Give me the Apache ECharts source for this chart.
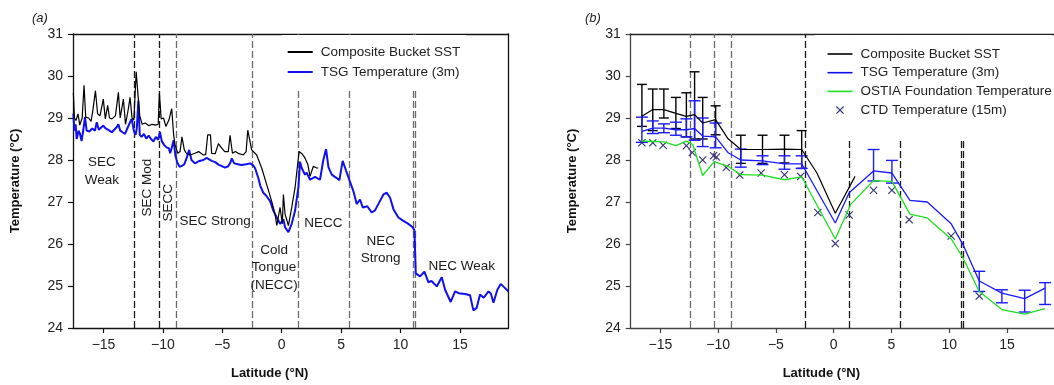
<!DOCTYPE html>
<html>
<head>
<meta charset="utf-8">
<script src="https://cdn.jsdelivr.net/npm/echarts@6/dist/echarts.min.js"></script>
<style>
  html, body { margin: 0; padding: 0; background: #fff; }
  #chart { width: 1054px; height: 385px; }
</style>
</head>
<body>
<div id="chart"></div>
<script>
// ---------- data ----------
const latTicks = [-15, -10, -5, 0, 5, 10, 15];
// regime boundaries (dashed lines), degrees N
const regimeBounds = [-12.4, -10.3, -8.84, -2.5, 1.35, 5.72, 11.05, 11.22];

// panel (a): along-track series [lat, temp]
const bucketTrackA = [
  [-17.54,29.6],[-17.45,29.0],[-17.32,28.94],[-17.15,29.1],[-17.0,28.83],[-16.8,29.0],[-16.64,29.78],
  [-16.5,29.02],[-16.25,29.0],[-16.05,28.92],[-15.9,29.18],[-15.68,29.65],[-15.5,29.1],[-15.3,29.05],
  [-15.02,29.45],[-14.85,28.98],[-14.65,29.3],[-14.5,29.0],[-14.3,28.98],[-14.0,29.05],[-13.75,29.61],
  [-13.6,29.0],[-13.33,29.45],[-13.15,28.85],[-12.91,29.22],[-12.77,29.49],[-12.6,29.0],[-12.45,28.95],
  [-12.25,30.1],[-12.1,29.55],[-11.95,29.05],[-11.75,28.85],[-11.5,28.88],[-11.2,28.82],[-10.9,28.85],
  [-10.6,28.83],[-10.4,28.85],[-10.3,29.6],[-10.15,28.98],[-9.95,29.0],[-9.75,28.8],[-9.5,28.95],
  [-9.26,29.22],[-9.1,28.6],[-8.98,28.36],[-8.75,28.16],[-8.56,28.2],[-8.4,28.55],[-8.2,28.24],
  [-8.0,28.15],[-7.7,28.12],[-7.3,28.16],[-7.0,28.2],[-6.6,28.12],[-6.4,28.13],[-6.23,28.6],[-6.0,28.6],
  [-5.9,28.16],[-5.6,28.15],[-5.33,28.39],[-5.1,28.3],[-4.8,28.2],[-4.5,28.2],[-4.35,28.59],[-4.15,28.16],
  [-3.9,28.2],[-3.6,28.15],[-3.23,28.12],[-3.0,28.2],[-2.86,28.71],[-2.53,28.24],[-2.11,28.12],
  [-1.69,27.81],[-1.27,27.42],[-0.85,27.02],[-0.56,26.71],[-0.42,26.44],[-0.14,26.87],[0.05,26.48],
  [0.14,27.18],[0.28,26.71],[0.56,26.44],[0.84,26.87],[1.12,27.34],[1.46,28.2],[1.7,28.15],[1.95,28.05],
  [2.19,27.9],[2.38,27.61],[2.66,27.85],[2.94,27.81],[3.08,27.81]
];
const tsgTrackA = [
  [-17.54,29.1],[-17.45,28.7],[-17.35,28.85],[-17.26,28.5],[-17.1,28.7],[-16.98,28.62],[-16.85,28.45],
  [-16.7,28.72],[-16.56,29.02],[-16.42,28.7],[-16.2,28.68],[-15.95,28.75],[-15.72,28.7],[-15.57,28.9],
  [-15.4,28.72],[-15.25,28.7],[-15.02,28.82],[-14.85,28.76],[-14.73,28.8],[-14.5,28.7],[-14.3,28.66],
  [-14.1,28.72],[-13.9,28.78],[-13.75,28.85],[-13.6,28.7],[-13.4,28.66],[-13.19,28.62],[-13.0,28.75],
  [-12.8,28.88],[-12.63,28.98],[-12.45,28.7],[-12.3,28.6],[-12.2,28.75],[-12.07,29.41],[-11.95,28.6],
  [-11.8,28.55],[-11.6,28.62],[-11.4,28.51],[-11.2,28.58],[-11.0,28.5],[-10.8,28.44],[-10.6,28.55],
  [-10.4,28.48],[-10.25,28.67],[-10.1,28.45],[-9.9,28.36],[-9.7,28.3],[-9.5,28.28],[-9.39,28.16],
  [-9.25,28.3],[-9.1,28.47],[-8.95,28.1],[-8.8,27.95],[-8.6,27.84],[-8.4,27.86],[-8.2,27.9],[-8.0,28.05],
  [-7.79,28.24],[-7.6,28.0],[-7.3,27.92],[-7.0,27.97],[-6.6,28.0],[-6.32,28.05],[-6.16,28.08],[-5.9,27.98],
  [-5.6,27.95],[-5.33,27.89],[-5.0,27.85],[-4.77,27.82],[-4.5,27.85],[-4.3,27.95],[-4.21,28.04],[-4.0,27.92],
  [-3.7,27.9],[-3.4,27.88],[-3.0,27.9],[-2.67,27.92],[-2.4,27.87],[-2.25,27.81],[-1.97,27.57],[-1.8,27.38],
  [-1.55,27.22],[-1.3,27.15],[-0.98,27.02],[-0.7,26.79],[-0.42,26.63],[-0.14,26.48],[0.14,26.59],
  [0.28,26.4],[0.56,26.28],[0.84,26.48],[1.12,26.79],[1.4,27.34],[1.54,27.96],[1.68,27.81],[1.96,27.65],
  [2.1,27.7],[2.38,27.53],[2.8,27.6],[3.22,27.53],[3.5,28.0],[3.73,28.26],[3.93,27.83],[4.21,27.65],
  [4.63,27.57],[4.85,27.52],[5.13,27.98],[5.41,27.75],[5.75,27.48],[6.03,27.26],[6.31,26.95],[6.59,27.06],
  [6.82,26.87],[7.2,26.9],[7.57,26.75],[7.85,26.8],[8.13,26.95],[8.56,27.18],[8.84,27.22],[9.12,27.1],
  [9.4,26.83],[9.82,26.63],[10.24,26.55],[10.66,26.48],[11.02,26.4],[11.17,26.32],[11.28,25.3],
  [11.64,25.23],[12.01,25.34],[12.34,25.09],[12.6,25.12],[12.76,25.15],[13.05,24.99],[13.19,25.02],
  [13.47,25.21],[13.75,24.91],[14.22,24.62],[14.59,24.87],[14.9,24.83],[15.43,24.81],[15.85,24.78],
  [16.13,24.42],[16.41,24.48],[16.69,24.8],[17.0,24.72],[17.4,24.87],[17.6,24.82],[17.82,24.6],
  [18.15,24.91],[18.43,25.05],[18.8,24.95],[19.08,24.87]
];

// panel (b): binned means
const bucketLatB  = [-16.6,-15.66,-14.7,-13.66,-12.75,-12.04,-11.34,-10.22,-9.16,-8.04,-6.16,-4.26,-2.77,-1.45,0.14,1.85];
const bucketMeanB = [29.04,29.2,29.2,29.11,29.04,29.08,28.88,28.96,28.51,28.25,28.25,28.26,28.25,27.69,26.73,27.61];
const bucketBarLat = [-16.6,-15.66,-14.7,-13.66,-12.75,-12.04,-11.34,-10.22,-8.04,-6.16,-4.26,-2.77];
const bucketBarLo  = [28.8,28.7,29.0,28.75,28.55,28.5,28.5,28.6,27.92,27.92,27.93,27.8];
const bucketBarHi  = [29.8,29.69,29.69,29.49,29.6,30.1,29.49,29.29,28.59,28.59,28.59,28.7];

const tsgLatB  = [-16.6,-15.66,-14.7,-13.66,-12.75,-12.04,-11.34,-10.22,-9.16,-8.04,-6.16,-4.26,-2.77,0.14,1.34,3.45,5.04,6.6,8.1,10.17,11.15,12.6,14.56,16.53,18.3];
const tsgMeanB = [28.68,28.76,28.76,28.72,28.72,28.75,28.57,28.55,28.18,28.0,27.98,27.91,27.91,26.5,27.22,27.74,27.69,27.04,27.0,26.48,26.01,25.12,24.83,24.7,24.95];
const tsgBarLat = [-16.6,-15.66,-14.7,-13.66,-12.75,-12.04,-11.34,-10.22,-8.04,-6.16,-4.26,-2.77,3.45,5.04,12.6,14.56,16.53,18.3];
const tsgBarLo  = [28.42,28.63,28.65,28.59,28.55,28.47,28.32,28.29,27.83,27.89,27.78,27.8,27.5,27.45,24.87,24.6,24.38,24.56];
const tsgBarHi  = [29.02,28.93,28.86,28.9,28.98,29.41,29.0,28.88,28.26,28.1,28.1,28.1,28.25,27.99,25.35,24.91,24.9,25.08];

const ostiaLatB  = [-16.6,-15.66,-14.7,-13.66,-12.75,-12.2,-11.34,-10.34,-9.16,-8.04,-6.16,-4.26,-2.77,0.14,1.49,3.45,5.04,6.6,8.1,10.17,11.15,12.6,14.56,16.53,18.3];
const ostiaTempB = [28.45,28.44,28.43,28.34,28.45,28.37,27.63,27.96,27.85,27.65,27.64,27.53,27.6,26.12,26.95,27.51,27.49,26.71,26.62,26.12,25.69,24.87,24.44,24.33,24.46];

const ctdLatB  = [-16.6,-15.66,-14.76,-12.75,-12.24,-11.34,-10.4,-10.15,-9.3,-8.13,-6.28,-4.26,-2.86,-1.37,0.14,1.34,3.45,5.04,6.53,10.17,12.6];
const ctdTempB = [28.41,28.41,28.35,28.34,28.18,28.0,28.1,28.07,27.82,27.64,27.69,27.65,27.61,26.75,26.01,26.69,27.28,27.28,26.58,26.19,24.76];

// region names in panel (a): [text, lat, temp, rotate]
const regimeLabels = [
  ['SEC\nWeak', -15.13, 27.73, 0],
  ['SEC Mod', -11.34, 27.34, 90],
  ['SECC', -9.57, 26.98, 90],
  ['SEC Strong', -5.61, 26.53, 0],
  ['Cold\nTongue\n(NECC)', -0.65, 25.44, 0],
  ['NECC', 3.5, 26.5, 0],
  ['NEC\nStrong', 8.33, 25.86, 0],
  ['NEC Weak', 15.15, 25.46, 0]
];

// ---------- chart ----------
const chart = echarts.init(document.getElementById('chart'));
const FONT = 'Liberation Sans, Arial, sans-serif';
const LAT_MIN = -17.57, LAT_MAX = 19.07;
const zip = (a, b) => a.map((v, i) => [v, b[i]]);
const zip3 = (a, b, c) => a.map((v, i) => [v, b[i], c[i]]);
const CROSS = 'path://M0,1L1,0L5,4L9,0L10,1L6,5L10,9L9,10L5,6L1,10L0,9L4,5Z';

function latAxis(gi, color) {
  return {
    type: 'value', gridIndex: gi, min: LAT_MIN, max: LAT_MAX,
    name: 'Latitude (°N)', nameLocation: 'middle', nameGap: 39,
    nameTextStyle: { fontFamily: FONT, fontWeight: 'bold', fontSize: 13, color: '#111', padding: [0, 42, 0, 0] },
    axisLine: { show: true, onZero: false, lineStyle: { color: color, width: 1.3 } },
    axisTick: { show: true, length: 5, customValues: latTicks, lineStyle: { color: color, width: 1.2 } },
    axisLabel: { customValues: latTicks, fontFamily: FONT, fontSize: 14, color: '#222', margin: 10,
      formatter: v => String(v).replace('-', '\u2212') },
    splitLine: { show: false }
  };
}
function frameX(gi, color) {
  return { type: 'value', gridIndex: gi, position: 'top', min: LAT_MIN, max: LAT_MAX,
    axisLine: { show: true, onZero: false, lineStyle: { color: color, width: 1.3 } },
    axisTick: { show: false }, axisLabel: { show: false }, splitLine: { show: false } };
}
function tempAxis(gi, color, gap) {
  return {
    type: 'value', gridIndex: gi, min: 24, max: 31, interval: 1,
    name: 'Temperature (°C)', nameLocation: 'middle', nameGap: gap,
    nameTextStyle: { fontFamily: FONT, fontWeight: 'bold', fontSize: 13, color: '#111' },
    axisLine: { show: true, onZero: false, lineStyle: { color: color, width: 1.3 } },
    axisTick: { show: true, length: 5, lineStyle: { color: color, width: 1.2 } },
    axisLabel: { fontFamily: FONT, fontSize: 14, color: '#222', margin: 10 },
    splitLine: { show: false }
  };
}
function bounds(darkFn) {
  return {
    silent: true, z: 1, symbol: ['none', 'none'], label: { show: false },
    lineStyle: { type: [7, 3], width: 1.3 },
    data: regimeBounds.map((v, i) => ({ xAxis: v, lineStyle: { color: darkFn(i) ? '#1a1a1a' : '#6a6a6a' } }))
  };
}
function errorBars(capHalf, color) {
  return function (params, api) {
    const x = api.value(0);
    const lo = api.coord([x, api.value(1)]);
    const hi = api.coord([x, api.value(2)]);
    const style = { stroke: color, lineWidth: 1.4, fill: null };
    return { type: 'group', children: [
      { type: 'line', shape: { x1: lo[0], y1: lo[1], x2: hi[0], y2: hi[1] }, style: style },
      { type: 'line', shape: { x1: hi[0] - capHalf, y1: hi[1], x2: hi[0] + capHalf, y2: hi[1] }, style: style },
      { type: 'line', shape: { x1: lo[0] - capHalf, y1: lo[1], x2: lo[0] + capHalf, y2: lo[1] }, style: style }
    ] };
  };
}
// legend entry for a line series: just the line, no symbol
const lineEntry = name => ({ name: name, itemStyle: { opacity: 0 } });

const option = {
  animation: false,
  backgroundColor: '#fff',
  textStyle: { fontFamily: FONT },
  title: [
    { text: '(a)', left: 27, top: 7, textStyle: { fontFamily: FONT, fontSize: 13, fontStyle: 'italic', fontWeight: 'normal', color: '#222' } },
    { text: '(b)', left: 580, top: 7, textStyle: { fontFamily: FONT, fontSize: 13, fontStyle: 'italic', fontWeight: 'normal', color: '#222' } }
  ],
  grid: [
    { left: 73, top: 34, width: 435.3, height: 298.3 },
    { left: 630.7, top: 34, width: 435.3, height: 298.3 }
  ],
  xAxis: [latAxis(0, '#111'), frameX(0, '#111'), latAxis(1, '#444'), frameX(1, '#222')],
  yAxis: [
    tempAxis(0, '#111', 51),
    { type: 'value', gridIndex: 0, position: 'right', min: 24, max: 31,
      axisLine: { show: true, onZero: false, lineStyle: { color: '#111', width: 1.3 } },
      axisTick: { show: false }, axisLabel: { show: false }, splitLine: { show: false } },
    tempAxis(1, '#444', 52)
  ],
  legend: [
    { data: [lineEntry('Composite Bucket SST'), lineEntry('TSG Temperature (3m)')], orient: 'vertical',
      left: 281.7, top: 35, padding: [10, 6, 10, 5], itemGap: 6, itemWidth: 25, itemHeight: 14,
      backgroundColor: '#fff', selectedMode: false, z: 6,
      textStyle: { fontFamily: FONT, fontSize: 13.5, color: '#222', padding: [0, 0, 0, 3] } },
    { data: [lineEntry('Composite Bucket SST'), lineEntry('TSG Temperature (3m)'),
             lineEntry('OSTIA Foundation Temperature'), 'CTD Temperature (15m)'],
      orient: 'vertical', left: 814.7, top: 35, padding: [12, 0, 24, 12], itemGap: 4.7, itemWidth: 25, itemHeight: 8,
      backgroundColor: '#fff', selectedMode: false, z: 6, lineStyle: { width: 1.6 },
      textStyle: { fontFamily: FONT, fontSize: 13.5, color: '#222', padding: [0, 0, 0, 3] } }
  ],
  series: [
    // panel (a)
    { name: 'TSG Temperature (3m)', type: 'line', xAxisIndex: 0, yAxisIndex: 0, data: tsgTrackA,
      symbol: 'none', lineStyle: { color: '#1010ee', width: 2 }, itemStyle: { color: '#1010ee' },
      markLine: bounds(i => i < 2) },
    { name: 'Composite Bucket SST', type: 'line', xAxisIndex: 0, yAxisIndex: 0, data: bucketTrackA,
      symbol: 'none', lineStyle: { color: '#000', width: 1.2 }, itemStyle: { color: '#000' } },
    { name: 'regimes', type: 'scatter', xAxisIndex: 0, yAxisIndex: 0, silent: true, z: 7,
      symbolSize: 0, itemStyle: { color: '#000', opacity: 1 },
      data: regimeLabels.map(r => ({ value: [r[1], r[2]], name: r[0],
        label: { show: true, position: 'inside', rotate: r[3], formatter: '{b}', fontFamily: FONT,
          fontSize: 13.5, color: '#1a1a1a', opacity: 1, textBorderWidth: 0, lineHeight: 17.5,
          align: 'center', verticalAlign: 'middle' } })) },
    // panel (b)
    { name: 'OSTIA Foundation Temperature', type: 'line', xAxisIndex: 2, yAxisIndex: 2,
      data: zip(ostiaLatB, ostiaTempB), symbol: 'none',
      lineStyle: { color: '#1ee01e', width: 1.3 }, itemStyle: { color: '#1ee01e' },
      markLine: bounds(i => i >= 3) },
    { name: 'TSG Temperature (3m)', type: 'line', xAxisIndex: 2, yAxisIndex: 2,
      data: zip(tsgLatB, tsgMeanB), symbol: 'none',
      lineStyle: { color: '#1a1aff', width: 1.3 }, itemStyle: { color: '#1a1aff' } },
    { name: 'Composite Bucket SST', type: 'line', xAxisIndex: 2, yAxisIndex: 2,
      data: zip(bucketLatB, bucketMeanB), symbol: 'none',
      lineStyle: { color: '#000', width: 1.2 }, itemStyle: { color: '#000' } },
    { name: 'bucketBars', type: 'custom', xAxisIndex: 2, yAxisIndex: 2, silent: true,
      renderItem: errorBars(5, '#000'), encode: { x: 0, y: [1, 2] },
      data: zip3(bucketBarLat, bucketBarLo, bucketBarHi) },
    { name: 'tsgBars', type: 'custom', xAxisIndex: 2, yAxisIndex: 2, silent: true,
      renderItem: errorBars(6, '#1a1aff'), encode: { x: 0, y: [1, 2] },
      data: zip3(tsgBarLat, tsgBarLo, tsgBarHi) },
    { name: 'CTD Temperature (15m)', type: 'scatter', xAxisIndex: 2, yAxisIndex: 2,
      data: zip(ctdLatB, ctdTempB), symbol: CROSS, symbolSize: 8,
      itemStyle: { color: '#35357a', opacity: 1 } }
  ]
};
chart.setOption(option);
</script>
</body>
</html>
